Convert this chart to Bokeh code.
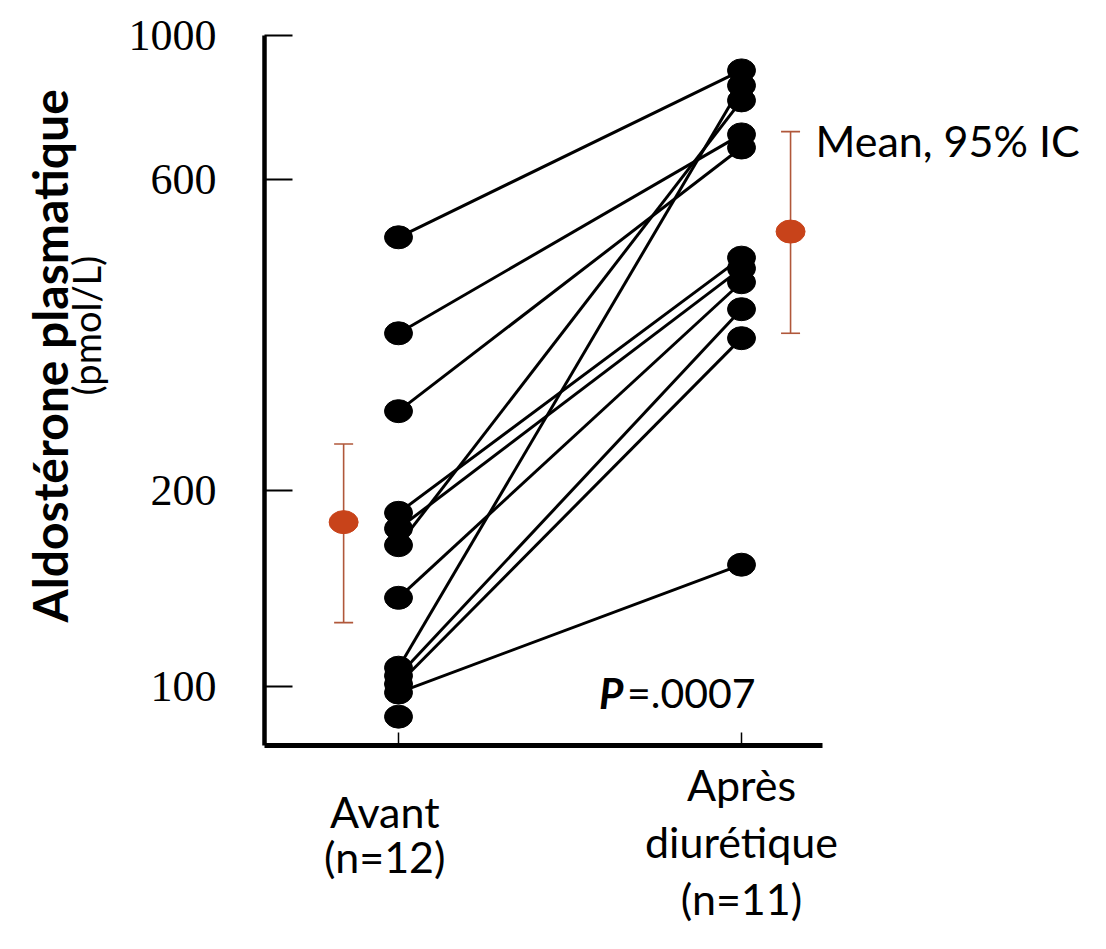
import math
from bokeh.plotting import figure
from bokeh.layouts import column
from bokeh.models import (Range1d, FixedTicker, NumeralTickFormatter, Label, Title,
                          Whisker, TeeHead, ColumnDataSource)
from bokeh.embed import file_html
from bokeh.resources import INLINE

# ---------------- data ----------------
group_positions = [1, 2]
group_labels = ["Avant\n(n=12)", "Après\ndiurétique\n(n=11)"]

# aldosterone (pmol/L) per patient, before and after diuretic (None = no value)
avant = [490, 349, 265, 185, 175, 165, 137, 107, 104, 101, 98, 90]
apres = [884, 705, 673, 456, 439, 795, 418, 838, 380, 343, 154, None]

mean_vals = [179, 500]
ci_low = [125.5, 349]
ci_high = [236, 712]

y_ticks = [100, 200, 600, 1000]
y_title = "Aldostérone plasmatique"
y_unit = "(pmol/L)"
legend_text = "Mean, 95% IC"
p_text = "=.0007"

# ---------------- styles ----------------
SANS = "Lato"
SERIF = "Liberation Serif"
RED = "#C8431A"
BAR = "#B0573A"
mean_offsets = [-0.16, 0.143]
label_offsets = [-0.04, 0.0]
label_tops = [148, 175]
label_line_heights = [0.9, 1.12]

W = 1098
X_RANGE = Range1d(0.6093, 3.0408)

p = figure(width=W, height=753, y_axis_type="log",
           x_range=X_RANGE, y_range=Range1d(81.27, 1000),
           output_backend="svg", toolbar_location=None,
           min_border_left=264, min_border_right=0,
           min_border_top=35, min_border_bottom=8)
p.outline_line_color = None
p.xgrid.visible = False
p.ygrid.visible = False

# y axis
ya = p.yaxis[0]
ya.ticker = FixedTicker(ticks=y_ticks, minor_ticks=[])
ya.formatter = NumeralTickFormatter(format="0")
ya.axis_line_width = 4.5
ya.axis_line_color = "black"
ya.major_tick_in = 28
ya.major_tick_out = 0
ya.major_tick_line_width = 1.8
ya.minor_tick_line_color = None
ya.major_label_standoff = 48
ya.major_label_text_font = SERIF
ya.major_label_text_font_size = "44px"
ya.major_label_text_color = "black"

# two-line axis title (unit line nearer the axis, bold line outside)
p.add_layout(Title(text=y_unit, align="left", offset=350, standoff=33,
                   vertical_align="bottom", text_font=SANS,
                   text_font_style="normal", text_font_size="38px",
                   text_color="black"), "left")
p.add_layout(Title(text=y_title, align="left", offset=123, standoff=-66,
                   vertical_align="bottom", text_font=SANS,
                   text_font_style="bold", text_font_size="48px",
                   text_color="black"), "left")

# x axis
xa = p.xaxis[0]
xa.ticker = FixedTicker(ticks=group_positions, minor_ticks=[])
xa.bounds = (X_RANGE.start, 2.2362)
xa.major_label_overrides = {pos: "" for pos in group_positions}
xa.major_label_text_font_size = "0px"
xa.major_label_standoff = 0
xa.axis_line_width = 5
xa.axis_line_color = "black"
xa.major_tick_in = 13
xa.major_tick_out = 0
xa.major_tick_line_width = 1.5
xa.minor_tick_line_color = None

# paired lines
pairs = [(b, a) for b, a in zip(avant, apres) if a is not None]
seg = ColumnDataSource(dict(
    x0=[group_positions[0]] * len(pairs), y0=[b for b, _ in pairs],
    x1=[group_positions[1]] * len(pairs), y1=[a for _, a in pairs]))
p.segment(x0="x0", y0="y0", x1="x1", y1="y1", source=seg,
          line_color="black", line_width=3)

# points
after_vals = [a for a in apres if a is not None]
for gx, vals in ((group_positions[0], avant), (group_positions[1], after_vals)):
    p.ellipse(x=[gx] * len(vals), y=vals, width=28, height=23,
              width_units="screen", height_units="screen",
              fill_color="black", line_color="black")

# mean & 95% CI
mx = [g + o for g, o in zip(group_positions, mean_offsets)]
ci_src = ColumnDataSource(dict(x=mx, lower=ci_low, upper=ci_high))
wh = Whisker(base="x", lower="lower", upper="upper", source=ci_src,
             dimension="height", line_color=BAR, line_width=1.6,
             upper_head=TeeHead(size=19, line_color=BAR, line_width=1.6),
             lower_head=TeeHead(size=19, line_color=BAR, line_width=1.6))
p.add_layout(wh)
p.ellipse(x=mx, y=mean_vals, width=29, height=23,
          width_units="screen", height_units="screen",
          fill_color=RED, line_color=RED)

# texts in the plot area
p.add_layout(Label(x=2.2157, y=690, text=legend_text,
                   text_align="left", text_baseline="middle",
                   text_font=SANS, text_font_size="43px", text_color="black"))
p.add_layout(Label(x=2.0408, y=98, text=p_text,
                   text_align="right", text_baseline="middle",
                   text_font=SANS, text_font_size="41px", text_color="black"))
p.add_layout(Label(x=1.656, y=98, text="P",
                   text_align="right", text_baseline="middle",
                   text_font=SANS, text_font_style="bold italic",
                   text_font_size="42px", text_color="black"))

# group labels under the axis
p2 = figure(width=W, height=180, x_range=X_RANGE, y_range=Range1d(0, 180),
            x_axis_location=None, y_axis_location=None,
            output_backend="svg", toolbar_location=None,
            min_border_left=264, min_border_right=0,
            min_border_top=0, min_border_bottom=0)
p2.outline_line_color = None
p2.grid.visible = False
for gx, off, top, lh, lab in zip(group_positions, label_offsets, label_tops,
                                 label_line_heights, group_labels):
    p2.add_layout(Label(x=gx + off, y=top, text=lab,
                        text_align="center", text_baseline="top",
                        text_font=SANS, text_font_size="43px",
                        text_line_height=lh, text_color="black"))

open("out.html", "w").write(file_html(column(p, p2, spacing=0), INLINE))
